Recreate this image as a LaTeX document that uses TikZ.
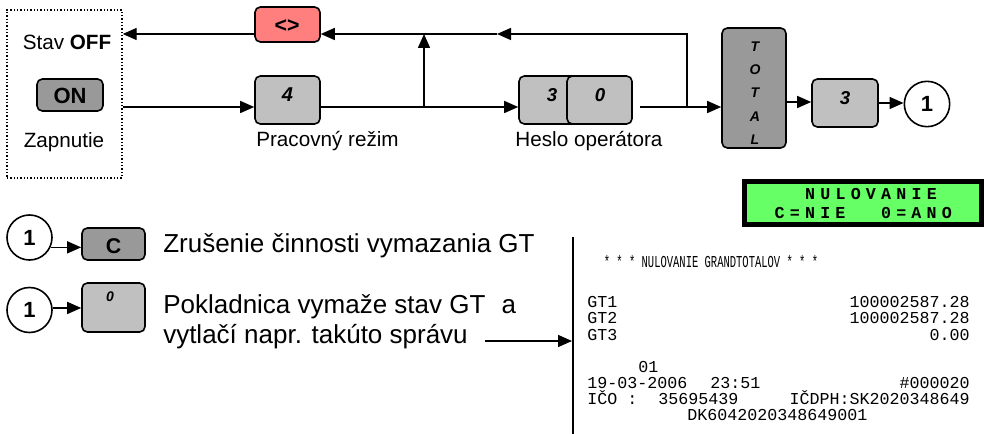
\documentclass[tikz,border=0pt]{standalone}
\usepackage{fontspec}
\setmainfont{Liberation Sans}
\newfontfamily\rcptfont{Liberation Mono}
\usetikzlibrary{arrows.meta}
\definecolor{keylight}{HTML}{C0C0C0}
\definecolor{keydark}{HTML}{999999}
\definecolor{keypink}{HTML}{FF7F7F}
\definecolor{lcdgreen}{HTML}{66FF66}
\newcommand\lcdc[1]{\makebox[11.4pt]{#1}}
\begin{document}
\begin{tikzpicture}[x=0.75pt,y=-0.75pt,
  key/.style={draw,line width=1.2pt,rounded corners=4pt,inner sep=0pt},
  keyl/.style={key,fill=keylight},
  keyd/.style={key,fill=keydark},
  keyp/.style={key,fill=keypink},
  circ/.style={draw,circle,line width=1.2pt,fill=white,inner sep=0pt,minimum size=34pt,font=\bfseries\fontsize{16.5}{18}\selectfont},
  ktxt/.style={inner sep=0pt,font=\bfseries\itshape\fontsize{14}{16}\selectfont},
  kbold/.style={inner sep=0pt,font=\bfseries\fontsize{16.5}{18}\selectfont},
  lbl/.style={inner sep=0pt,anchor=base,font=\fontsize{15.5}{18}\selectfont},
  big/.style={inner sep=0pt,anchor=base west,font=\fontsize{19.5}{22}\selectfont},
  rc/.style={inner sep=0pt,font=\rcptfont\fontsize{12.5}{15}\selectfont},
  rcw/.style={rc,anchor=base west},
  rce/.style={rc,anchor=base east},
  conn/.style={line width=1.1pt},
  arr/.style={conn,-{Triangle[length=10.5pt,width=9pt]}}
]
\useasboundingbox (0,0) rectangle (984,434);

% ---- top part ----
\node[draw,line width=1.1pt,dash pattern=on 1.1pt off 1.4pt,minimum width=86.25pt,minimum height=126pt,inner sep=0pt] (offbox) at (64.5,94) {};
\node[lbl] (stav) at (67,50) {Stav \textbf{OFF}};
\node[keyd,minimum width=49.5pt,minimum height=24pt] (on) at (70,95) {};
\node[kbold] (ontxt) at (70,96) {ON};
\node[lbl] (zap) at (64,148) {Zapnutie};

\node[keyp,minimum width=48.75pt,minimum height=26.25pt] (pink) at (287.5,24.5) {};
\node[kbold,font=\bfseries\fontsize{16}{18}\selectfont] (pinktxt) at (287,26) {<>};

\node[keyl,minimum width=48.75pt,minimum height=36pt] (k4) at (287.5,100) {};
\node[ktxt,font=\bfseries\itshape\fontsize{15}{17}\selectfont] (k4txt) at (287.5,95) {4};
\node[lbl] (prac) at (327.5,147) {Pracovný režim};

\node[keyl,minimum width=48.75pt,minimum height=36pt] (k3) at (551.5,100) {};
\node[ktxt] (k3txt) at (552,95) {3};
\node[keyl,minimum width=48.75pt,minimum height=36pt] (k0) at (599.5,100) {};
\node[ktxt] (k0txt) at (600,95) {0};
\node[lbl] (heslo) at (589,147) {Heslo operátora};

\node[keyd,minimum width=48pt,minimum height=90pt] (total) at (754,88) {};
\foreach \l/\yy [count=\i] in {T/47,O/70,T/93,A/117,L/140}
  \node[ktxt,font=\bfseries\itshape\fontsize{10.5}{12}\selectfont] (tl\i) at (755,\yy) {\l};

\node[keyl,minimum width=49.5pt,minimum height=36pt] (k3b) at (845,103) {};
\node[ktxt] (k3btxt) at (845,98) {3};
\node[circ] (c1) at (927,104) {1};

% connectors top
\coordinate (ytop) at (0,34);
\coordinate (ymid) at (0,107);
\coordinate (y102) at (0,102);
\coordinate (j1) at (424,107);
\coordinate (j1t) at (424,34);
\coordinate (j2) at (687,107);
\coordinate (j2t) at (687,34);
\coordinate (mida) at (497,34);
\coordinate[xshift=5.25pt] (k0out) at (k0.east |- ymid);

\draw[arr] (pink.west |- ytop) -- (offbox.east |- ytop);
\draw[arr] (offbox.east |- ymid) -- (k4.west |- ymid);
\draw[arr] (k4.east |- ymid) -- (k3.west |- ymid);
\draw[arr] (j1) -- (j1t);
\draw[arr] (k0out) -- (total.west |- ymid);
\draw[arr] (j2) -- (j2t) -- (mida);
\draw[arr] (mida) -- (pink.east |- ytop);
\draw[arr] (total.east |- y102) -- (k3b.west |- y102);
\draw[arr] (k3b.east) -- (k3b.east -| c1.west);

% LCD
\draw[line width=3.4pt,fill=lcdgreen] (744.3,181.3) rectangle (981.7,224.7);
\node[inner sep=0pt,anchor=base,font=\rcptfont\bfseries\fontsize{12.5}{14}\selectfont] (lcd1) at (871,200)
  {\lcdc{N}\lcdc{U}\lcdc{L}\lcdc{O}\lcdc{V}\lcdc{A}\lcdc{N}\lcdc{I}\lcdc{E}};
\node[inner sep=0pt,anchor=base,font=\rcptfont\bfseries\fontsize{12.5}{14}\selectfont] (lcd2) at (863.3,219)
  {\lcdc{C}\lcdc{=}\lcdc{N}\lcdc{I}\lcdc{E}\lcdc{ }\lcdc{ }\lcdc{0}\lcdc{=}\lcdc{A}\lcdc{N}\lcdc{O}};

% ---- bottom part ----
\node[circ,minimum size=33.75pt] (b1) at (29.5,237.5) {1};
\node[keyd,minimum width=47.25pt,minimum height=24pt] (kc) at (113.5,244) {};
\node[kbold,font=\bfseries\fontsize{16}{18}\selectfont] (kctxt) at (113.5,246) {C};
\draw[arr] (b1.-25) -- (kc.west |- b1.-25);
\node[big] (zrus) at (163,253) {Zrušenie činnosti vymazania GT};

\node[circ,minimum size=33.75pt] (b2) at (29.5,310) {1};
\node[keyl,minimum width=47.25pt,minimum height=36.75pt] (k0b) at (113.5,307.5) {};
\node[ktxt,font=\bfseries\itshape\fontsize{10.5}{12}\selectfont] (k0btxt) at (110,297) {0};
\draw[arr] (b2.5) -- (k0b.west |- b2.5);
\node[big] (pok1) at (163,314) {Pokladnica vymaže stav GT\hspace{0.62em}a};
\node[big] (pok2) at (163,344) {vytlačí napr. takúto správu};

% receipt
\coordinate (rtop) at (573,237);
\coordinate (rbot) at (573,434);
\draw[line width=1.6pt] (rtop) -- (rbot);
\coordinate (a3s) at (485,341);
\coordinate (a3e) at (572,341);
\draw[arr] (a3s) -- (a3e);

\node[rc,anchor=base] (rhead) at (711,268) {\scalebox{0.63}[1]{* * * NULOVANIE GRANDTOTALOV * * *}};
\node[rcw] (g1) at (587,308) {GT1};
\node[rce] (g1v) at (970,308) {100002587.28};
\node[rcw] (g2) at (587,324) {GT2};
\node[rce] (g2v) at (970,324) {100002587.28};
\node[rcw] (g3) at (587,340) {GT3};
\node[rce] (g3v) at (970,340) {0.00};
\node[rcw] (r01) at (638,372) {01};
\node[rcw] (rdate) at (587,388) {19-03-2006};
\node[rcw] (rtime) at (710,388) {23:51};
\node[rce] (rnum) at (970,388) {\#000020};
\node[rcw] (rico) at (587,404) {IČO :};
\node[rcw] (ricov) at (658,404) {35695439};
\node[rce] (rdph) at (970,404) {IČDPH:SK2020348649};
\node[rcw] (rdk) at (687,420) {DK6042020348649001};
\end{tikzpicture}
\end{document}
